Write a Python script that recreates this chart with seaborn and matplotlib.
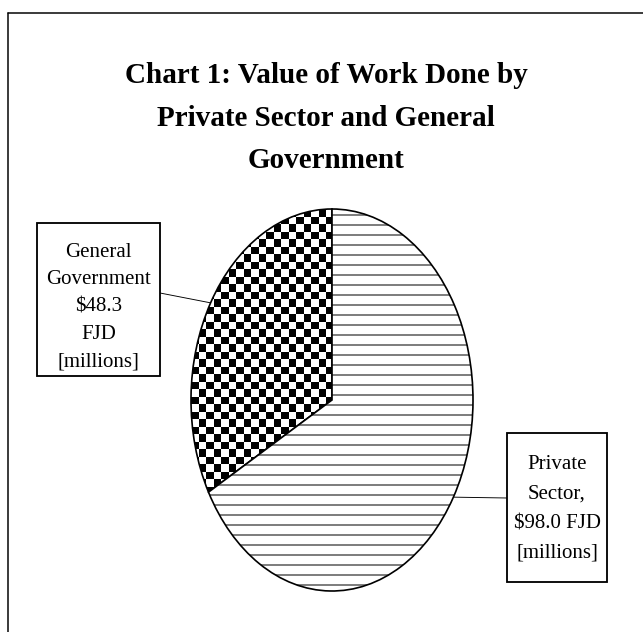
import numpy as np
import matplotlib.pyplot as plt
import seaborn as sns
from matplotlib.lines import Line2D
from matplotlib.patches import Rectangle

# data
sectors = ['General Government', 'Private Sector']
values = [48.3, 98.0]
labels = ['General\nGovernment\n$48.3\nFJD\n[millions]',
          'Private\nSector,\n$98.0 FJD\n[millions]']
title = 'Chart 1: Value of Work Done by\nPrivate Sector and General\nGovernment'

sns.set_theme(style='white')
plt.rcParams['font.family'] = ['Liberation Serif', 'DejaVu Serif']
plt.rcParams['text.color'] = 'black'
plt.rcParams['hatch.linewidth'] = 1.2

W, H, DPI = 643, 632, 60      # dpi 60 -> hatch spacing ~10px
fig = plt.figure(figsize=(W / DPI, H / DPI), dpi=DPI)
fig.patch.set_facecolor('white')


def fx(px):
    return px / W


def fy(py):
    return 1 - py / H


# elliptical pie: axes box sized in pixels
cx, cy, rx, ry = 332, 400, 141, 191
ax = fig.add_axes([fx(cx - rx), fy(cy + ry), 2 * rx / W, 2 * ry / H])
wedges, _ = ax.pie(values, startangle=90, counterclock=True,
                   colors=['none', 'white'],
                   wedgeprops=dict(edgecolor='black', linewidth=2.0))
wedges[1].set_hatch('-')
for w in wedges:
    w.set_clip_on(False)

# checkerboard texture for the government slice, one array cell per pixel
sq = 7.5
jj, ii = np.meshgrid(np.arange(2 * rx), np.arange(2 * ry))
checker = ((ii // sq + jj // sq) % 2).astype(float)
im = ax.imshow(checker, cmap='gray_r', origin='upper', interpolation='nearest',
               extent=[-1, 1, -1, 1], aspect='auto', zorder=0.5)
im.set_clip_path(wedges[0])
ax.set_aspect('auto')
ax.set_xlim(-1, 1)
ax.set_ylim(-1, 1)
ax.axis('off')

fig.text(fx(326), fy(118), title, ha='center', va='center', fontsize=35,
         fontweight='bold', linespacing=1.72)

# label boxes and leader lines
boxes = [(37, 223, 160, 376), (507, 433, 607, 582)]
text_y = [307, 509]
spacing = [1.6, 1.74]
anchors = [(160, 293), (507, 498)]
total = sum(values)
start = 90
for (x0, y0, x1, y1), lab, val, ty, ls, (axp, ayp) in zip(
        boxes, labels, values, text_y, spacing, anchors):
    mid = np.deg2rad(start + 180 * val / total)
    start += 360 * val / total
    fig.add_artist(Rectangle((fx(x0), fy(y1)), fx(x1) - fx(x0), fy(y0) - fy(y1),
                             transform=fig.transFigure, facecolor='white',
                             edgecolor='black', linewidth=2.2))
    fig.text(fx((x0 + x1) / 2), fy(ty), lab, ha='center', va='center',
             fontsize=25, linespacing=ls)
    ax.annotate('', xy=(np.cos(mid), np.sin(mid)), xycoords='data',
                xytext=(axp, H - ayp), textcoords='figure pixels',
                arrowprops=dict(arrowstyle='-', color='black', lw=1.1,
                                shrinkA=0, shrinkB=0))

# outer frame (top and left edges)
fig.add_artist(Line2D([fx(8), 1], [fy(13), fy(13)], color='black', lw=1.8,
                      transform=fig.transFigure))
fig.add_artist(Line2D([fx(8), fx(8)], [fy(13), 0], color='black', lw=1.8,
                      transform=fig.transFigure))

fig.savefig('out.png', dpi=DPI)
